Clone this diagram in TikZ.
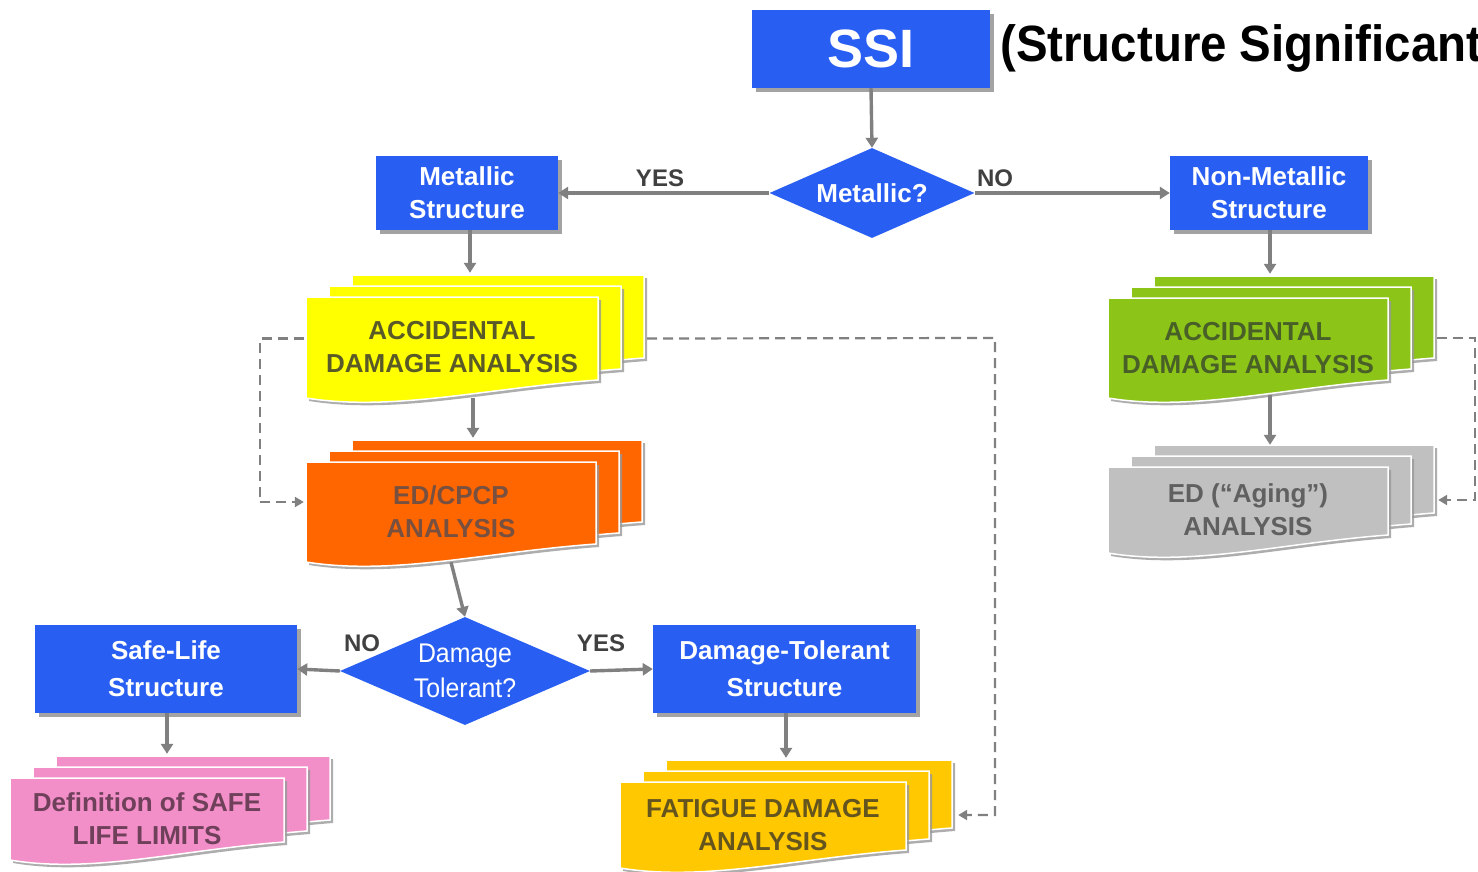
\documentclass[tikz,border=0pt]{standalone}
\usepackage{fontspec}
\setmainfont{Liberation Sans}
\usetikzlibrary{shapes.geometric,arrows.meta,shadows,calc}
\definecolor{ssiblue}{RGB}{40,94,242}
\definecolor{linegray}{RGB}{128,128,128}
\definecolor{lblgray}{RGB}{64,64,64}
\definecolor{cyellow}{RGB}{255,255,0}
\definecolor{corange}{RGB}{255,102,0}
\definecolor{cgreen}{RGB}{140,196,24}
\definecolor{cgray}{RGB}{192,192,192}
\definecolor{cpink}{RGB}{242,142,200}
\definecolor{cgold}{RGB}{255,200,0}
\definecolor{tyellow}{RGB}{90,90,40}
\definecolor{torange}{RGB}{120,80,64}
\definecolor{tgreen}{RGB}{72,96,40}
\definecolor{tgray}{RGB}{96,96,96}
\definecolor{tpink}{RGB}{110,64,90}
\definecolor{tgold}{RGB}{100,84,30}
\tikzset{
  bluebox/.style={rectangle, fill=ssiblue, text=white, align=center, inner sep=0pt,
    font=\bfseries\fontsize{26}{33}\selectfont,
    drop shadow={shadow xshift=4pt, shadow yshift=-4pt, fill=black!45, opacity=0.8}},
  decision/.style={diamond, fill=ssiblue, text=white, align=center, inner sep=0pt, aspect=2.3},
  sheetfill/.style={draw=white, line width=1.5pt,
    drop shadow={shadow xshift=3pt, shadow yshift=-3pt, fill=black!40, opacity=0.8}},
  stacktext/.style={rectangle, inner sep=0pt, align=center, font=\bfseries\fontsize{26}{33}\selectfont},
  arr/.style={draw=linegray, line width=3.4pt, -{Triangle[width=12pt,length=10pt]}},
  darr/.style={draw=linegray, line width=2.2pt, dash pattern=on 10pt off 6pt, -{Triangle[width=10pt,length=9pt]}},
  lbl/.style={font=\bfseries\fontsize{24}{28}\selectfont, text=lblgray, inner sep=0pt},
}
% name, x, y, w, h, fill, textcolor, text
\newcommand{\docstack}[8]{%
  \foreach \k in {2,1,0}{%
    \path[sheetfill, fill=#6] ({#2+23*\k},{#3-11*\k}) -- ({#2+23*\k+#4},{#3-11*\k})
      -- ({#2+23*\k+#4},{#3-11*\k+#5-18})
      .. controls ({#2+23*\k+0.62*#4},{#3-11*\k+#5-10}) and ({#2+23*\k+0.3*#4},{#3-11*\k+#5+14})
      .. ({#2+23*\k},{#3-11*\k+#5}) -- cycle;
  }
  \node[stacktext, text=#7, minimum width=#4, minimum height=#5] (#1) at ({#2+#4/2},{#3+#5/2}) {#8};
}
\begin{document}
\begin{tikzpicture}[x=1pt,y=-1pt]
\useasboundingbox (0,0) rectangle (1478,872);
\fill[white] (0,0) rectangle (1478,872);
\clip (0,0) rectangle (1478,872);

% top
\node[bluebox, minimum width=238, minimum height=78, font=\bfseries\fontsize{54}{60}\selectfont] (ssi) at (871,49) {SSI};
\node[anchor=base west, inner sep=0pt, font=\bfseries\fontsize{51}{56}\selectfont] (title) at (1000,62) {\scalebox{0.93}[1]{(Structure Significant}};

\node[decision, minimum width=205, minimum height=90, font=\bfseries\fontsize{26}{30}\selectfont] (met) at (872,193) {Metallic?};
\node[bluebox, minimum width=182, minimum height=74] (ms) at (467,193) {Metallic\\Structure};
\node[bluebox, minimum width=198, minimum height=74] (nms) at (1269,193) {Non-Metallic\\Structure};
\node[lbl] (yes1) at (660,178) {YES};
\node[lbl] (no1) at (995,178) {NO};

% stacks
\docstack{yad}{306}{297}{292}{101}{cyellow}{tyellow}{ACCIDENTAL\\DAMAGE ANALYSIS}
\docstack{ecp}{306}{462}{290}{100}{corange}{torange}{ED/CPCP\\ANALYSIS}
\docstack{gad}{1108}{298}{280}{100}{cgreen}{tgreen}{ACCIDENTAL\\DAMAGE ANALYSIS}
\docstack{eda}{1108}{467}{280}{86}{cgray}{tgray}{ED (“Aging”)\\ANALYSIS}
\docstack{sll}{10}{778}{274}{82}{cpink}{tpink}{Definition of SAFE\\LIFE LIMITS}
\docstack{fda}{620}{782}{286}{86}{cgold}{tgold}{FATIGUE DAMAGE\\ANALYSIS}

% lower decision
\node[decision, minimum width=250, minimum height=108, font=\fontsize{27}{35}\selectfont] (dtq) at (465,671) {\scalebox{0.92}[1]{Damage}\\\scalebox{0.92}[1]{Tolerant?}};
\node[bluebox, minimum width=262, minimum height=88, font=\bfseries\fontsize{26}{37}\selectfont] (sl) at (166,669) {Safe-Life\\Structure};
\node[bluebox, minimum width=263, minimum height=88, font=\bfseries\fontsize{26}{37}\selectfont] (dts) at (784.5,669) {Damage-Tolerant\\Structure};
\node[lbl] (no2) at (362,643) {NO};
\node[lbl] (yes2) at (601,643) {YES};

% connectors
\draw[arr] (ssi.south) -- (met.north);
\draw[arr] (met.west) -- (ms.east);
\draw[arr] (met.east) -- (nms.west);
\draw[arr] ($(ms.south)+(3,0)$) -- ($(ms.south |- yad.north)+(3,-24)$);
\draw[arr] ($(yad.south)+(21,0)$) -- ($(ecp.north)+(22,-24)$);
\draw[arr] (ecp.south) -- (dtq.north);
\draw[arr] (dtq.west) -- (sl.east);
\draw[arr] (dtq.east) -- (dts.west);
\draw[arr] ($(sl.south)+(1,0)$) -- ($(sl.south |- sll.north)+(1,-24)$);
\draw[arr] ($(dts.south)+(1.5,0)$) -- ($(dts.south |- fda.north)+(1.5,-24)$);
\draw[arr] ($(nms.south)+(1,0)$) -- ($(nms.south |- gad.north)+(1,-24)$);
\draw[arr] ($(gad.south)+(22,-3)$) -- ($(eda.north)+(22,-22)$);

\coordinate (dr) at (995,338);
\draw[darr] ($(yad.west)+(-2,-9)$) -- ++(-44,0) |- ($(ecp.west)+(-2,-10)$);
\draw[darr] ($(yad.east)+(49,-9)$) -- (dr) |- ($(fda.east)+(52,-10)$);
\draw[darr] ($(gad.east)+(49,-10)$) -- ++(38,0) |- ($(eda.east)+(50,-10)$);
\end{tikzpicture}
\end{document}
